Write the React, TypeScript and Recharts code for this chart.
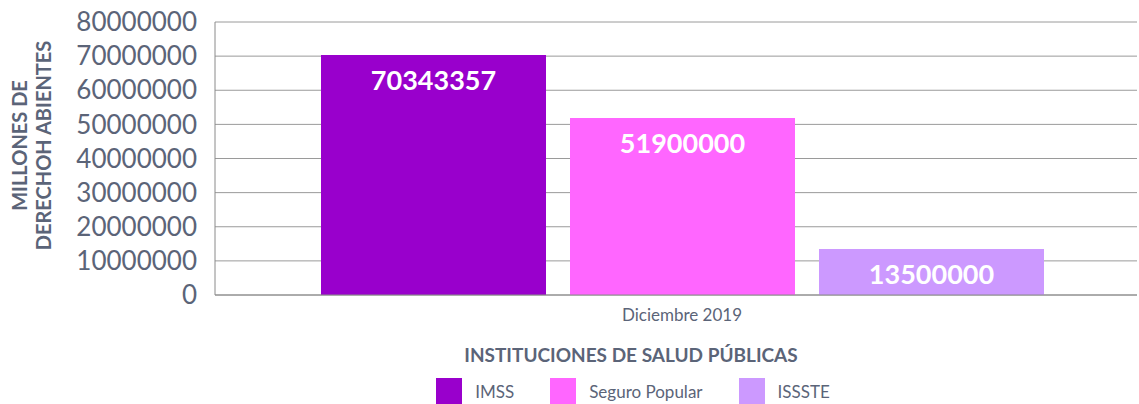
import React from 'react';
import {
  BarChart,
  Bar,
  XAxis,
  YAxis,
  CartesianGrid,
  Legend,
  LabelList,
} from 'recharts';

const categories = ['Diciembre 2019'];
const imss = [70343357];
const seguroPopular = [51900000];
const issste = [13500000];
const yTicks = [0, 10000000, 20000000, 30000000, 40000000, 50000000, 60000000, 70000000, 80000000];

const series = [
  { key: 'imss', name: 'IMSS', color: '#9900CC', values: imss },
  { key: 'seguro', name: 'Seguro Popular', color: '#FF66FF', values: seguroPopular },
  { key: 'issste', name: 'ISSSTE', color: '#CC99FF', values: issste },
];

const chartData = categories.map((c, i) => {
  const row: Record<string, string | number> = { name: c };
  series.forEach((s) => {
    row[s.key] = s.values[i];
  });
  return row;
});

const textColor = '#5B6478';
const font = 'Lato, "Open Sans", sans-serif';

const YLabel = (props: any) => {
  const vb = props.viewBox || { x: 0, y: 0, height: 0 };
  const cy = vb.y + vb.height / 2 - 13;
  return (
    <text
      transform={`translate(0, ${cy}) rotate(-90)`}
      textAnchor="middle"
      fill={textColor}
      fontFamily={font}
      fontWeight={700}
      fontSize={20}
    >
      <tspan x={0} y={27}>MILLONES DE</tspan>
      <tspan x={0} y={51}>DERECHOH ABIENTES</tspan>
    </text>
  );
};

const LegendContent = () => (
  <div
    style={{
      display: 'flex',
      justifyContent: 'center',
      alignItems: 'center',
      paddingTop: 13,
      paddingLeft: 114,
      fontFamily: font,
      fontSize: 17,
      color: textColor,
    }}
  >
    {series.map((s) => (
      <div key={s.key} style={{ display: 'flex', alignItems: 'center', margin: '0 18px' }}>
        <span style={{ width: 26, height: 26, background: s.color, display: 'inline-block', marginRight: 13 }} />
        <span>{s.name}</span>
      </div>
    ))}
  </div>
);

const App: React.FC = () => {
  return (
    <div style={{ position: 'absolute', left: 0, top: 0, background: '#fff' }}>
      <BarChart
        width={1139}
        height={404}
        data={chartData}
        margin={{ top: 22, right: 2, left: 15, bottom: 0 }}
        barGap={24}
        barSize={225}
      >
        <CartesianGrid vertical={false} stroke="#9a9a9a" />
        <XAxis
          dataKey="name"
          height={70}
          padding={{ left: 12, right: 0 }}
          tickLine={false}
          axisLine={{ stroke: '#8a8a8a' }}
          tick={{ fill: textColor, fontSize: 17, fontFamily: font }}
          tickMargin={8}
          label={{
            value: 'INSTITUCIONES DE SALUD PÚBLICAS',
            position: 'insideBottom',
            offset: 3,
            dx: -45,
            fill: textColor,
            fontSize: 19,
            fontWeight: 700,
            fontFamily: font,
          }}
        />
        <YAxis
          width={200}
          domain={[0, 80000000]}
          ticks={yTicks}
          interval={0}
          tickLine={false}
          axisLine={{ stroke: '#8a8a8a' }}
          tick={{ fill: textColor, fontSize: 26, fontFamily: font }}
          tickMargin={12}
          label={<YLabel />}
        />
        <Legend verticalAlign="bottom" height={39} content={<LegendContent />} />
        {series.map((s) => (
          <Bar key={s.key} dataKey={s.key} name={s.name} fill={s.color} isAnimationActive={false}>
            <LabelList
              dataKey={s.key}
              position="insideTop"
              offset={16}
              fill="#ffffff"
              fontSize={27}
              fontWeight={700}
              fontFamily={font}
            />
          </Bar>
        ))}
      </BarChart>
    </div>
  );
};

export default App;
